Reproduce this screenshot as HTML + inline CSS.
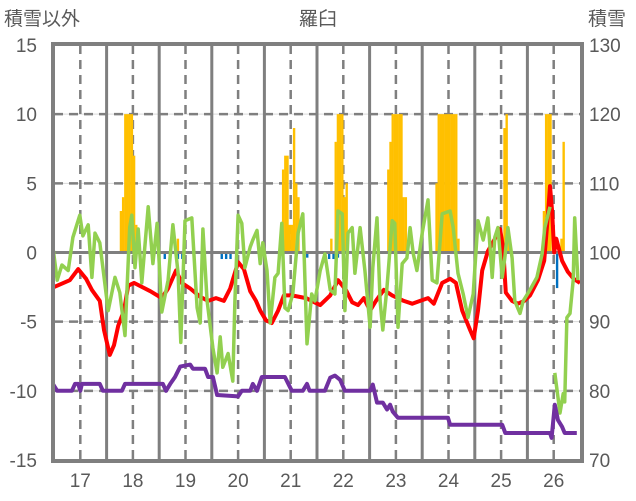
<!DOCTYPE html>
<html><head><meta charset="utf-8">
<style>
html,body{margin:0;padding:0;background:#fff;}
svg{display:block;font-family:"Liberation Sans","Noto Sans CJK JP",sans-serif;}
</style></head>
<body>
<svg id="chart" width="636" height="501" viewBox="0 0 636 501">
<text x="318" y="25" text-anchor="middle" font-size="19" fill="#595959">羅臼</text>
<text x="4" y="25" font-size="19" fill="#595959">積雪以外</text>
<text x="588" y="25" font-size="19" fill="#595959">積雪</text>
<g id="grid"></g><g id="bars"></g><g id="lines"></g><g id="frame"></g><g id="labels"></g>
</svg>
<script>
const dayTicks=[17,18,19,20,21,22,23,24,25,26];
const leftTicks=[15,10,5,0,-5,-10,-15];
const rightTicks=[130,120,110,100,90,80,70];
const redT=[16.50,16.80,16.96,17.11,17.22,17.37,17.45,17.56,17.64,17.72,17.83,17.91,18.02,18.33,18.55,18.67,18.82,18.93,19.09,19.28,19.43,19.58,19.73,19.85,20.00,20.11,20.23,20.34,20.42,20.53,20.64,20.76,20.87,21.02,21.29,21.40,21.56,21.75,21.90,22.05,22.17,22.28,22.39,22.51,22.62,22.77,22.93,23.15,23.31,23.46,23.61,23.72,23.88,24.03,24.14,24.26,24.41,24.48,24.56,24.64,24.75,24.87,24.98,25.04,25.09,25.21,25.32,25.44,25.55,25.70,25.82,25.89,25.93,25.97,26.01,26.05,26.16,26.27,26.38,26.50];
const redV=[-2.5,-2.0,-1.2,-1.9,-2.7,-3.5,-5.6,-7.4,-6.7,-5.3,-4.2,-2.4,-2.2,-2.8,-3.3,-2.6,-1.3,-2.2,-2.6,-3.2,-3.5,-3.3,-3.5,-2.6,-0.7,-1.2,-2.8,-3.5,-4.2,-4.9,-5.1,-4.2,-3.1,-3.1,-3.3,-3.5,-3.8,-3.1,-2.0,-2.7,-3.6,-3.8,-3.3,-4.2,-3.5,-2.7,-3.1,-3.5,-3.7,-3.5,-3.3,-3.7,-2.2,-1.9,-2.2,-4.2,-5.6,-6.2,-4.2,-1.3,0.1,0.9,1.7,0.3,-2.9,-3.5,-3.7,-3.5,-3.1,-2.0,-0.6,2.7,4.8,3.0,0.0,1.0,-0.6,-1.4,-1.9,-2.2];
const greenT=[16.48,16.56,16.65,16.77,16.86,16.99,17.05,17.15,17.22,17.28,17.37,17.53,17.66,17.75,17.85,17.94,17.98,18.04,18.10,18.17,18.29,18.38,18.46,18.55,18.67,18.76,18.86,18.91,18.99,19.12,19.22,19.28,19.33,19.41,19.52,19.60,19.66,19.71,19.81,19.90,19.94,20.00,20.07,20.13,20.23,20.28,20.36,20.42,20.47,20.55,20.61,20.70,20.76,20.83,20.89,20.95,21.04,21.14,21.23,21.31,21.40,21.46,21.56,21.65,21.75,21.84,21.90,21.98,22.03,22.09,22.17,22.22,22.32,22.41,22.51,22.56,22.64,22.70,22.75,22.83,22.93,22.98,23.04,23.12,23.21,23.27,23.33,23.40,23.50,23.61,23.69,23.78,23.88,24.03,24.09,24.18,24.28,24.37,24.47,24.56,24.66,24.75,24.83,24.88,24.94,25.02,25.07,25.13,25.21,25.26,25.36,25.42,25.55,25.68,25.78,25.83,25.93,25.97,26.02,26.12,26.18,26.21,26.25,26.31,26.37,26.40,26.46];
const greenV=[0.4,-2.0,-0.9,-1.3,1.1,2.7,1.2,2.0,-1.8,1.4,0.7,-4.2,-1.8,-2.9,-6.0,1.8,2.7,-1.1,1.7,-2.2,3.3,-0.8,2.1,-4.3,-2.0,2.0,-1.5,-6.5,2.3,2.5,-4.0,-5.1,1.7,-3.5,-6.9,-8.7,-6.1,-8.3,-7.3,-9.3,-3.5,2.7,2.1,-1.1,0.4,0.9,1.6,-0.8,0.7,-1.3,-5.1,-1.8,-1.5,2.1,-4.0,-4.2,-3.0,1.4,2.8,-6.6,-3.0,-3.5,-1.3,-0.1,-2.7,-3.0,3.0,2.8,-4.2,1.4,1.8,-1.5,1.8,-1.3,-5.4,-1.1,2.5,-3.5,-5.6,-2.5,2.3,2.1,-5.4,-0.8,-0.4,1.8,-0.1,-1.3,1.4,3.8,-2.0,-2.2,2.8,3.0,1.8,-1.5,-3.0,-4.7,-3.0,2.3,0.9,2.5,-1.8,1.1,1.8,-1.8,-0.4,1.8,-0.4,-3.5,-4.4,-3.5,-2.7,-1.8,-0.1,1.8,3.3,null,-8.7,-11.6,-10.2,-10.8,-4.7,-4.4,-2.0,2.5,-2.0];
const snowT=[16.48,16.56,16.84,16.90,16.96,17.00,17.03,17.37,17.43,17.79,17.85,18.57,18.63,18.71,18.80,18.90,19.09,19.14,19.37,19.43,19.52,19.60,20.00,20.07,20.23,20.28,20.36,20.45,20.89,21.02,21.23,21.31,21.36,21.65,21.75,21.84,21.94,22.03,22.51,22.56,22.64,22.75,22.83,22.89,22.94,23.04,23.99,24.03,25.02,25.08,25.93,25.96,26.02,26.08,26.16,26.21,26.44];
const snowV=[81,80,80,81,81,80,81,81,80,80,81,81,80,81,82,83.5,83.8,83.2,83.2,82,82,79.4,79.2,80,80,81,80,82,82,80,80,81,80,80,81.9,82.2,81.6,80,80,80.9,78.3,78.3,77.3,78,77,76.1,76.1,75.1,75.1,73.9,73.9,73.2,78,75.8,74.8,73.9,73.9];
const precipH=[30,31,32,33,34,35,36,37,56,104,105,106,107,108,109,110,111,126,128,129,130,131,132,133,152,153,154,155,156,157,158,159,160,174,175,176,177,178,179,180,181,182,183,184,205,206,207,223,224,225,226,231,232];
const precipV=[3,4,10,10,10,10,7,2,1,6,7,7,2,2,9,5,4,1,8,10,10,10,4,5,6,8,10,10,10,10,10,4,4,5,10,10,10,10,10,10,10,10,10,1,9,10,1,3,10,10,10,1,8];
const negH=[50,56,58,76,78,80,115,125,127,129,229];
const negV=[-0.4,-0.4,-0.4,-0.4,-0.4,-0.4,-0.3,-0.4,-0.4,-0.3,-2.5];

const X0=54,X1=580,Y0=45,Y1=460,T0=16.5,T1=26.5;
const xS=t=>X0+(t-T0)/(T1-T0)*(X1-X0);
const yL=v=>Y1-(v+15)/30*(Y1-Y0);
const yR=v=>Y1-(v-70)/60*(Y1-Y0);
const hx=h=>xS(T0+h/24);
const NS='http://www.w3.org/2000/svg';
function mk(tag,attrs,parent){const e=document.createElementNS(NS,tag);for(const k in attrs)e.setAttribute(k,attrs[k]);parent.appendChild(e);return e;}
const grid=document.getElementById('grid'),bars=document.getElementById('bars'),lines=document.getElementById('lines'),frame=document.getElementById('frame'),labels=document.getElementById('labels');

leftTicks.forEach(v=>{
  if(v===15||v===-15||v===0)return;
  const y=yL(v);
  let g=mk('line',{x1:X0,x2:X1,y1:y,y2:y,stroke:'#d9d9d9','stroke-width':1},grid);
  
  
  let d=mk('line',{x1:X0,x2:X1,y1:y,y2:y,stroke:'#7f7f7f','stroke-width':2.5,'stroke-dasharray':'9,6'},grid);
  
  
});
dayTicks.forEach(dd=>{
  const xm=xS(dd);
  let d=mk('line',{x1:xm,x2:xm,y1:Y0,y2:Y1,stroke:'#7f7f7f','stroke-width':2.5,'stroke-dasharray':'9,6'},grid);
  
  
  if(dd<26){const xb=xS(dd+0.5);
  let s=mk('line',{x1:xb,x2:xb,y1:Y0,y2:Y1,stroke:'#7f7f7f','stroke-width':3},grid);
  
  }
});
const bw=(X1-X0)/240;
precipH.forEach((h,i)=>{
  const v=precipV[i];
  let r=mk('rect',{x:hx(h),y:yL(v),width:bw+0.2,height:yL(0)-yL(v),fill:'#ffc000'},bars);
  
  
});
negH.forEach((h,i)=>{
  const v=negV[i];
  let r=mk('rect',{x:hx(h),y:yL(0),width:bw+0.2,height:yL(v)-yL(0)+1,fill:'#0070c0'},bars);
  
  
});
let z=mk('line',{x1:X0,x2:X1,y1:yL(0),y2:yL(0),stroke:'#7f7f7f','stroke-width':3},bars);


function path(ts,vs,ys){let d='',pen=false;ts.forEach((t,i)=>{const v=vs[i];if(v===null){pen=false;return;}d+=(pen?'L':'M')+xS(t).toFixed(1)+' '+ys(v).toFixed(1)+' ';pen=true;});return d;}
let pr=mk('path',{d:path(redT,redV,yL),fill:'none',stroke:'#ff0000','stroke-width':4,'stroke-linejoin':'round'},lines);


let pg=mk('path',{d:path(greenT,greenV,yL),fill:'none',stroke:'#92d050','stroke-width':3.5,'stroke-linejoin':'round'},lines);


let pp=mk('path',{d:path(snowT,snowV,yR),fill:'none',stroke:'#7030a0','stroke-width':4,'stroke-linejoin':'round'},lines);


let fr=mk('rect',{x:X0-1,y:Y0-1,width:X1-X0+3,height:Y1-Y0+2,fill:'none',stroke:'#7f7f7f','stroke-width':4},frame);


leftTicks.forEach(v=>{
  let t=mk('text',{x:37,y:yL(v)+7,'text-anchor':'end','font-size':19,fill:'#595959'},labels);t.textContent=v;
  
  
});
rightTicks.forEach(v=>{
  let t=mk('text',{x:589,y:yR(v)+7,'font-size':19,fill:'#595959'},labels);t.textContent=v;
  
  
});
dayTicks.forEach(dd=>{
  let t=mk('text',{x:xS(dd),y:487,'text-anchor':'middle','font-size':19,fill:'#595959'},labels);t.textContent=dd;
  
  
});
</script>
</body></html>
